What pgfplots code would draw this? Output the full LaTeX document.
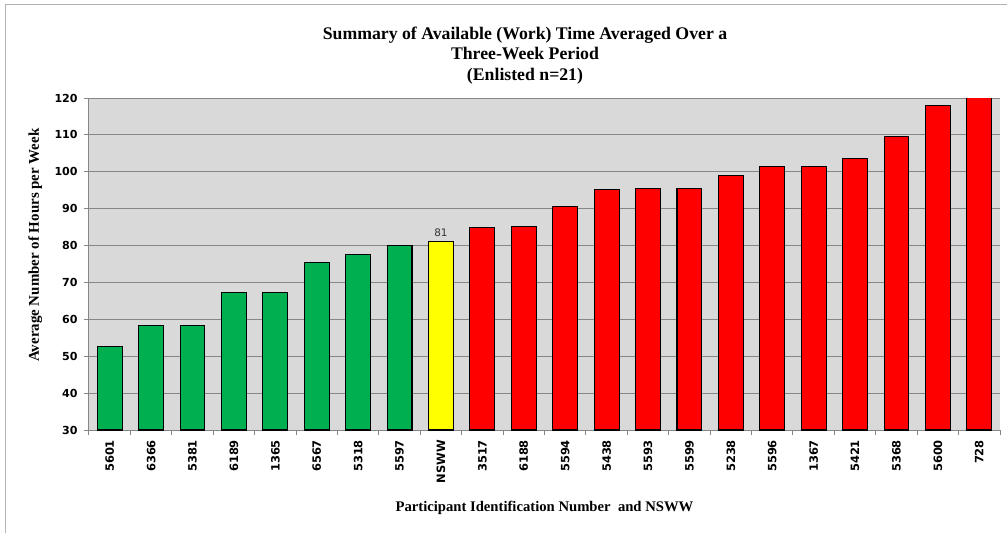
\documentclass[border=0pt]{standalone}
\usepackage{pgfplots}
\pgfplotsset{compat=1.18}
\usepackage{fontspec}
\setmainfont{Liberation Serif}
\newfontfamily\tickfont{DejaVu Sans}

\definecolor{xlgreen}{RGB}{0,176,80}
\definecolor{xlred}{RGB}{255,0,0}
\definecolor{xlyellow}{RGB}{255,255,0}
\definecolor{plotbg}{RGB}{217,217,217}
\definecolor{gridgray}{RGB}{134,134,134}

\begin{document}
\begin{tikzpicture}
% page = 1007x533 px at 0.75pt/px, origin at the plot's lower left corner
\useasboundingbox (-66.75pt,-77.25pt) rectangle (688.5pt,322.5pt);
\draw[gray!60, line width=0.75pt] (-62.25pt,-77.25pt) -- (-62.25pt,318.75pt) -- (688.5pt,318.75pt);

\begin{axis}[
    at={(0,0)}, anchor=south west,
    scale only axis,
    width=683.25pt, height=249pt,
    ybar, bar width=0.6, bar shift=0pt,
    xmin=-0.5, xmax=21.5,
    ymin=30, ymax=120,
    ytick={30,40,...,120},
    xtick={-0.5,0.5,...,21.5},
    x tick label as interval,
    xticklabels={5601,6366,5381,6189,1365,6567,5318,5597,NSWW,3517,6188,5594,5438,5593,5599,5238,5596,1367,5421,5368,5600,728},
    major tick length=4pt,
    tick align=outside,
    tick style={gridgray, line width=0.75pt},
    axis lines*=left,
    axis line style={gridgray, line width=0.75pt},
    axis background/.style={fill=plotbg},
    ymajorgrids=true,
    grid style={gridgray, line width=0.75pt},
    /pgf/number format/assume math mode=true,
    yticklabel style={font=\tickfont\bfseries\fontsize{8.3}{10}\selectfont, xshift=-1pt},
    xticklabel style={font=\tickfont\bfseries\fontsize{8.6}{10}\selectfont, rotate=90, anchor=east},
    xlabel={Participant Identification Number\ \ and NSWW},
    xlabel style={font=\bfseries\fontsize{11}{12}\selectfont, at={(axis description cs:0.5,-0.235)}, anchor=center},
    ylabel={Average Number of Hours per Week},
    ylabel style={font=\bfseries\fontsize{11.2}{12}\selectfont, at={(axis description cs:-0.059,0.557)}, anchor=center},
]
\addplot[fill=xlgreen, draw=black, line width=0.8pt] coordinates {
    (0,52.6)(1,58.4)(2,58.4)(3,67.4)(4,67.4)(5,75.4)(6,77.5)(7,80.0)
};
\addplot[fill=xlyellow, draw=black, line width=0.8pt,
    nodes near coords,
    every node near coord/.append style={font=\tickfont\fontsize{7.8}{9}\selectfont, text=black!80}] coordinates {
    (8,81)
};
\addplot[fill=xlred, draw=black, line width=0.8pt] coordinates {
    (9,85.0)(10,85.2)(11,90.7)(12,95.1)(13,95.4)(14,95.4)(15,99.0)(16,101.5)
    (17,101.5)(18,103.7)(19,109.6)(20,117.9)(21,122)
};
\end{axis}

\node[font=\bfseries\fontsize{13.3}{15.5}\selectfont, align=center, anchor=north]
    at (327pt,306pt) {Summary of Available (Work) Time Averaged Over a\\Three-Week Period\\(Enlisted n=21)};
\end{tikzpicture}
\end{document}
